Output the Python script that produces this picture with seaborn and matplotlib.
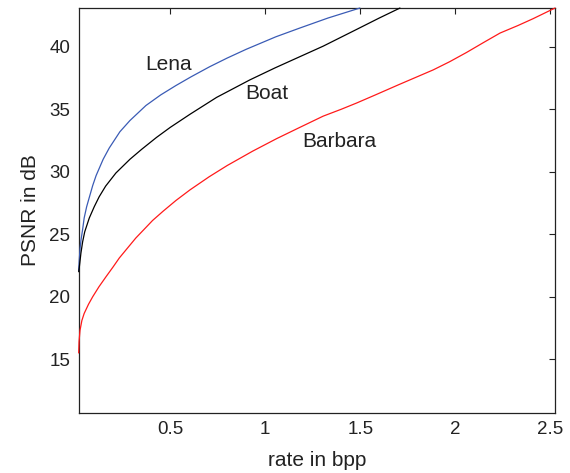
import matplotlib
matplotlib.use("Agg")
import matplotlib.pyplot as plt
import seaborn as sns
import pandas as pd

lena_rate = [0.018, 0.021, 0.025, 0.030, 0.039, 0.047, 0.060, 0.075, 0.092, 0.110, 0.147, 0.179,
             0.235, 0.288, 0.372, 0.45, 0.53, 0.61, 0.707, 0.80, 0.90, 1.056, 1.182, 1.33, 1.498]
lena_psnr = [22.1, 22.9, 23.8, 24.5, 25.4, 26.3, 27.2, 28.0, 28.9, 29.7, 31.0, 31.9,
             33.2, 34.1, 35.3, 36.15, 36.9, 37.6, 38.4, 39.1, 39.8, 40.8, 41.5, 42.3, 43.1]

boat_rate = [0.018, 0.021, 0.030, 0.039, 0.050, 0.074, 0.100, 0.126, 0.160, 0.214, 0.288, 0.35,
             0.428, 0.50, 0.604, 0.744, 0.919, 1.05, 1.13, 1.305, 1.481, 1.60, 1.709]
boat_psnr = [22.0, 22.3, 23.5, 24.4, 25.2, 26.3, 27.2, 28.0, 28.85, 29.9, 31.0, 31.8,
             32.75, 33.55, 34.6, 35.95, 37.35, 38.3, 38.85, 40.05, 41.39, 42.3, 43.1]

barbara_rate = [0.018, 0.020, 0.025, 0.035, 0.047, 0.070, 0.092, 0.125, 0.162, 0.20, 0.232, 0.27,
                0.319, 0.36, 0.407, 0.463, 0.53, 0.604, 0.705, 0.80, 0.934, 1.06, 1.182, 1.305,
                1.40, 1.481, 1.58, 1.70, 1.884, 1.97, 2.06, 2.15, 2.236, 2.33, 2.41, 2.525]
barbara_psnr = [15.5, 16.4, 17.3, 18.1, 18.66, 19.4, 20.0, 20.8, 21.6, 22.4, 23.1, 23.8,
                24.7, 25.35, 26.1, 26.85, 27.7, 28.55, 29.6, 30.5, 31.65, 32.65, 33.55, 34.45,
                35.0, 35.5, 36.15, 36.95, 38.15, 38.8, 39.55, 40.35, 41.1, 41.7, 42.25, 43.1]

labels = ["Lena", "Boat", "Barbara"]
label_x = [0.493, 1.009, 1.388]
label_y = [38.56, 36.23, 32.43]

xticks = [0.5, 1, 1.5, 2, 2.5]
xticklabels = ["0.5", "1", "1.5", "2", "2.5"]
yticks = [15, 20, 25, 30, 35, 40]

frames = []
for name, r, p in [("Lena", lena_rate, lena_psnr), ("Boat", boat_rate, boat_psnr),
                   ("Barbara", barbara_rate, barbara_psnr)]:
    frames.append(pd.DataFrame({"rate": r, "psnr": p, "image": name}))
df = pd.concat(frames, ignore_index=True)

sns.set_style("white")
plt.rcParams["font.family"] = ["Liberation Sans", "DejaVu Sans"]

fig = plt.figure(figsize=(5.7, 4.73), dpi=100)
ax = fig.add_axes([0.138, 0.127, 0.836, 0.856])

palette = {"Lena": "#3a5bb5", "Boat": "#000000", "Barbara": "#ff1a1a"}
sns.lineplot(data=df, x="rate", y="psnr", hue="image", palette=palette,
             estimator=None, sort=False, linewidth=0.9, legend=False, ax=ax,
             zorder=3, clip_on=False)

for t, x, y in zip(labels, label_x, label_y):
    ax.text(x, y, t, ha="center", va="center", fontsize=15, color="#222222")

ax.set_xlim(0.018, 2.526)
ax.set_ylim(10.7, 43.1)
ax.set_xticks(xticks)
ax.set_xticklabels(xticklabels)
ax.set_yticks(yticks)
ax.tick_params(direction="in", top=True, right=True, length=4, width=0.8,
               labelsize=13.5, colors="#222222", pad=6)
for s in ax.spines.values():
    s.set_color("#222222")
    s.set_linewidth(0.9)
    s.set_zorder(2)
ax.set_xlabel("rate in bpp", fontsize=15, color="#222222", labelpad=9)
ax.set_ylabel("PSNR in dB", fontsize=15, color="#222222", labelpad=7)

fig.savefig("out.png", dpi=100)
